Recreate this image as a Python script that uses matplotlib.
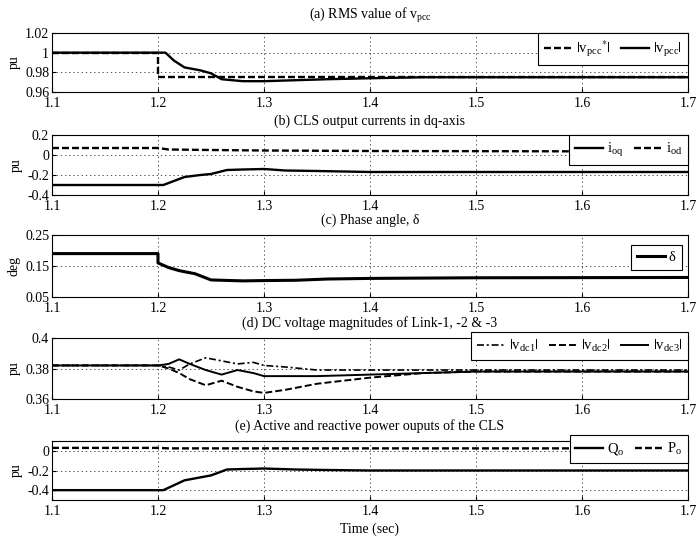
import matplotlib
matplotlib.use("Agg")
import matplotlib.pyplot as plt

plt.rcParams['font.family'] = ['Liberation Serif', 'DejaVu Serif']
plt.rcParams['mathtext.fontset'] = 'stix'
plt.rcParams['font.size'] = 10
plt.rcParams['lines.scale_dashes'] = False

# (a) RMS value of v_pcc
t_vref = [1.1, 1.2, 1.2, 1.7]
vpcc_ref = [1.0, 1.0, 0.975, 0.975]
t_vpcc = [1.1, 1.207, 1.215, 1.225, 1.24, 1.25, 1.26, 1.28, 1.3, 1.33, 1.36, 1.4, 1.45, 1.5, 1.7]
vpcc = [1.0, 1.0, 0.992, 0.985, 0.982, 0.979, 0.973, 0.971, 0.971, 0.972, 0.973, 0.974, 0.975, 0.975, 0.975]

# (b) CLS output currents in dq-axis
t_ioq = [1.1, 1.205, 1.215, 1.225, 1.24, 1.25, 1.265, 1.28, 1.3, 1.32, 1.35, 1.4, 1.5, 1.7]
ioq = [-0.30, -0.30, -0.26, -0.22, -0.20, -0.19, -0.15, -0.145, -0.14, -0.155, -0.16, -0.17, -0.17, -0.17]
t_iod = [1.1, 1.2, 1.21, 1.25, 1.3, 1.4, 1.7]
iod = [0.07, 0.07, 0.055, 0.05, 0.045, 0.04, 0.035]

# (c) Phase angle
t_delta = [1.1, 1.2, 1.2, 1.21, 1.22, 1.235, 1.25, 1.28, 1.3, 1.33, 1.36, 1.4, 1.5, 1.7]
delta = [0.19, 0.19, 0.16, 0.145, 0.135, 0.125, 0.105, 0.102, 0.103, 0.104, 0.108, 0.11, 0.112, 0.113]

# (d) DC voltage magnitudes of Link-1, -2 & -3
t_dc = [1.1, 1.2, 1.21, 1.22, 1.23, 1.245, 1.26, 1.275, 1.29, 1.3, 1.32, 1.35, 1.4, 1.45, 1.5, 1.6, 1.7]
vdc1 = [0.382, 0.382, 0.381, 0.379, 0.383, 0.387, 0.385, 0.383, 0.384, 0.382, 0.381, 0.379, 0.379, 0.379, 0.379, 0.379, 0.379]
vdc2 = [0.382, 0.382, 0.380, 0.377, 0.373, 0.369, 0.372, 0.368, 0.365, 0.364, 0.366, 0.370, 0.374, 0.377, 0.378, 0.378, 0.378]
vdc3 = [0.382, 0.382, 0.383, 0.386, 0.383, 0.379, 0.376, 0.379, 0.377, 0.375, 0.375, 0.375, 0.376, 0.377, 0.378, 0.378, 0.378]

# (e) Active and reactive power outputs of the CLS
t_q = [1.1, 1.205, 1.215, 1.225, 1.24, 1.25, 1.265, 1.28, 1.3, 1.33, 1.36, 1.4, 1.5, 1.7]
q_o = [-0.40, -0.40, -0.35, -0.30, -0.27, -0.25, -0.19, -0.185, -0.18, -0.19, -0.195, -0.20, -0.20, -0.20]
t_p = [1.1, 1.2, 1.21, 1.7]
p_o = [0.03, 0.03, 0.025, 0.025]

xticks = [1.1, 1.2, 1.3, 1.4, 1.5, 1.6, 1.7]

fig = plt.figure(figsize=(6.96, 5.37), dpi=100)
W, H = 696, 537


def make_axes(top, bottom, left=52, right=688):
    return fig.add_axes([left / W, 1 - bottom / H, (right - left) / W, (bottom - top) / H])


DASH = (0, (5, 2.2))
DASHDOT = (0, (5, 2, 1.5, 2))
LW = 1.7


def style(ax, ylim, yticks, ylabel, title, title_pad=7):
    ax.set_xlim(1.1, 1.7)
    ax.set_ylim(*ylim)
    ax.set_xticks(xticks)
    ax.set_xticklabels([f"{v:g}" for v in xticks])
    ax.set_yticks(yticks)
    ax.set_yticklabels([f"{v:g}" for v in yticks])
    ax.tick_params(direction='in', length=3)
    ax.tick_params(axis='x', pad=3.5)
    ax.tick_params(axis='y', pad=2)
    ax.grid(True, color='#555555', linestyle=(0, (1, 2)), linewidth=0.7)
    ax.set_ylabel(ylabel, labelpad=3)
    ax.set_title(title, fontsize=10, pad=title_pad)
    for s in ax.spines.values():
        s.set_linewidth(0.8)


def legend(ax, ncol, anchor):
    leg = ax.legend(ncol=ncol, loc='upper right', bbox_to_anchor=anchor,
                    borderaxespad=0, fancybox=False, edgecolor='black', framealpha=1,
                    handlelength=1.9, columnspacing=0.7, handletextpad=0.3,
                    borderpad=0.4, fontsize=10.5)
    leg.get_frame().set_linewidth(0.8)


# (a)
ax = make_axes(33, 92)
ax.plot(t_vref, vpcc_ref, color='black', lw=LW, linestyle=DASH, label=r'$|\mathregular{v_{pcc}}^{*}|$')
ax.plot(t_vpcc, vpcc, color='black', lw=LW, label=r'$|\mathregular{v_{pcc}}|$')
style(ax, (0.96, 1.02), [0.96, 0.98, 1, 1.02], 'pu', r'(a) RMS value of $\mathregular{v_{pcc}}$', 10)
legend(ax, 2, (1.0, 1.0))

# (b)
ax = make_axes(135, 195)
ax.plot(t_ioq, ioq, color='black', lw=LW, label=r'$\mathregular{i_{oq}}$')
ax.plot(t_iod, iod, color='black', lw=LW, linestyle=DASH, label=r'$\mathregular{i_{od}}$')
style(ax, (-0.4, 0.2), [-0.4, -0.2, 0, 0.2], 'pu', '(b) CLS output currents in dq-axis', 7)
legend(ax, 2, (1.0, 1.0))

# (c)
ax = make_axes(235, 297)
ax.plot(t_delta, delta, color='black', lw=2.2, label='δ')
style(ax, (0.05, 0.25), [0.05, 0.15, 0.25], 'deg', '(c) Phase angle, δ', 8)
legend(ax, 1, (0.99, 0.84))

# (d)
ax = make_axes(338, 399)
ax.plot(t_dc, vdc1, color='black', lw=1.2, linestyle=DASHDOT, label=r'$|\mathregular{v_{dc1}}|$')
ax.plot(t_dc, vdc2, color='black', lw=1.4, linestyle=DASH, label=r'$|\mathregular{v_{dc2}}|$')
ax.plot(t_dc, vdc3, color='black', lw=1.4, label=r'$|\mathregular{v_{dc3}}|$')
style(ax, (0.36, 0.4), [0.36, 0.38, 0.4], 'pu', '(d) DC voltage magnitudes of Link-1, -2 & -3', 8)
legend(ax, 3, (1.0, 1.095))

# (e)
ax = make_axes(441, 500)
ax.plot(t_q, q_o, color='black', lw=LW, label=r'$\mathregular{Q_o}$')
ax.plot(t_p, p_o, color='black', lw=LW, linestyle=DASH, label=r'$\mathregular{P_o}$')
style(ax, (-0.5, 0.1), [-0.4, -0.2, 0], 'pu', '(e) Active and reactive power ouputs of the CLS', 8)
legend(ax, 2, (1.0, 1.1))
ax.set_xlabel('Time (sec)', labelpad=3)

fig.savefig('out.png', dpi=100)
